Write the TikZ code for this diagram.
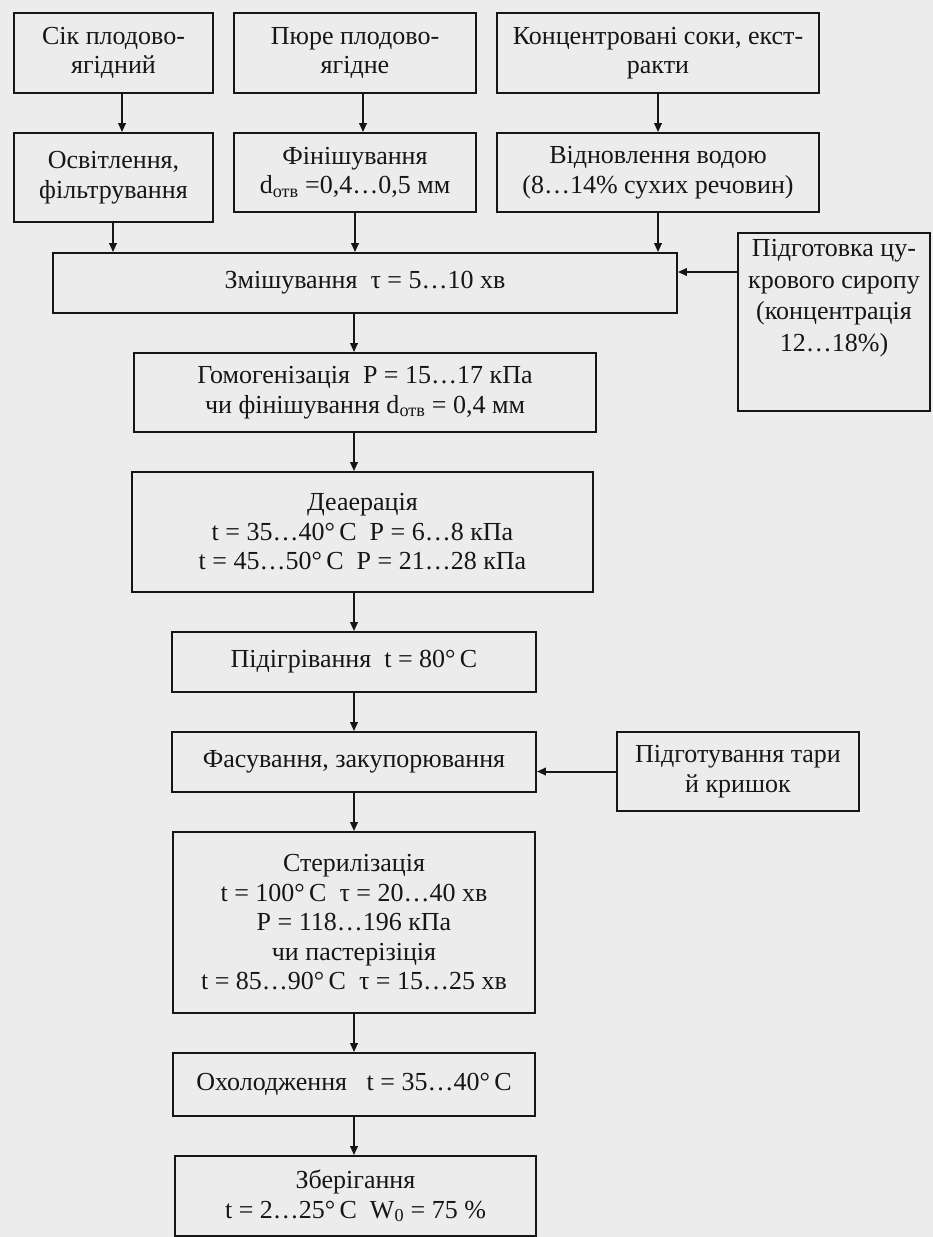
\documentclass[tikz,border=0pt]{standalone}
\usepackage{fontspec}
\setmainfont{Liberation Serif}
\usetikzlibrary{arrows.meta}
\definecolor{paper}{RGB}{236,236,236}
\definecolor{ink}{RGB}{22,22,22}
\begin{document}
\begin{tikzpicture}[x=1pt,y=-1pt,
  box/.style={draw=ink, line width=1.8pt, inner sep=0pt, align=center,
    font=\fontsize{26}{29.5}\selectfont, text=ink},
  lbl/.style={inner sep=0pt, align=center, font=\fontsize{26}{31.5}\selectfont, text=ink},
  flow/.style={draw=ink, line width=2pt, -{Triangle[length=9pt,width=7.5pt]}}]
\fill[paper] (0,0) rectangle (933,1237);
\useasboundingbox (0,0) rectangle (933,1237);

% raw materials
\node[box, minimum width=199pt, minimum height=80pt] (A) at (113.5,53) {Сік плодово-\\ягідний};
\node[box, minimum width=242pt, minimum height=80pt] (B) at (355,53) {Пюре плодово-\\ягідне};
\node[box, minimum width=322pt, minimum height=80pt] (C) at (658,53) {Концентровані соки, екст-\\ракти};

% preparation of each raw material
\node[box, minimum width=199pt, minimum height=89pt] (D) at (113.5,177.5) {Освітлення,\\фільтрування};
\node[box, minimum width=242pt, minimum height=79pt] (E) at (355,172.5) {Фінішування\\d\textsubscript{отв} =0,4…0,5 мм};
\node[box, minimum width=322pt, minimum height=79pt] (F) at (658,172.5) {Відновлення водою\\(8…14\% сухих речовин)};

% mixing and syrup
\node[box, minimum width=624pt, minimum height=60pt] (G) at (365,283) {Змішування \ τ = 5…10 хв};
\node[box, minimum width=192pt, minimum height=178pt] (S) at (834,322) {};
\node[lbl] (St) at (834,298) {Підготовка цу-\\крового сиропу\\(концентрація\\12…18\%)};

% main line
\node[box, minimum width=462pt, minimum height=79pt] (H) at (365,392.5) {Гомогенізація \ P = 15…17 кПа\\чи фінішування d\textsubscript{отв} = 0,4 мм};
\node[box, minimum width=461pt, minimum height=120pt] (I) at (362.5,532) {Деаерація\\t = 35…40°\,C \ P = 6…8 кПа\\t = 45…50°\,C \ P = 21…28 кПа};
\node[box, minimum width=364pt, minimum height=60pt] (J) at (354,662) {Підігрівання \ t = 80°\,C};
\node[box, minimum width=364pt, minimum height=60pt] (K) at (354,762) {Фасування, закупорювання};
\node[box, minimum width=242pt, minimum height=79pt] (T) at (738,771.5) {Підготування тари\\й кришок};
\node[box, minimum width=362pt, minimum height=181pt] (L) at (354,922.5) {Стерилізація\\t = 100°\,C \ τ = 20…40 хв\\P = 118…196 кПа\\чи пастерізіція\\t = 85…90°\,C \ τ = 15…25 хв};
\node[box, minimum width=362pt, minimum height=63pt] (M) at (354,1084.5) {Охолодження \ \ t = 35…40°\,C};
\node[box, minimum width=361pt, minimum height=80pt] (N) at (355.5,1196) {Зберігання\\t = 2…25°\,C \ W\textsubscript{0} = 75 \%};

% connectors
\draw[flow] ([xshift=8.5pt]A.south) -- ([xshift=8.5pt]A.south |- D.north);
\draw[flow] ([xshift=8pt]B.south) -- ([xshift=8pt]B.south |- E.north);
\draw[flow] (C.south) -- (F.north);
\coordinate (dout) at ([xshift=-0.5pt]D.south);
\draw[flow] (dout) -- (dout |- G.north);
\draw[flow] (E.south) -- (E.south |- G.north);
\draw[flow] (F.south) -- (F.south |- G.north);
\coordinate (gin) at ([yshift=11pt]G.east);
\draw[flow] (gin -| S.west) -- (gin);
\coordinate (gout) at ([xshift=-11pt]G.south);
\draw[flow] (gout) -- (gout |- H.north);
\coordinate (hout) at ([xshift=-11pt]H.south);
\draw[flow] (hout) -- (hout |- I.north);
\draw[flow] (J.north |- I.south) -- (J.north);
\draw[flow] (J.south) -- (K.north);
\draw[flow] (K.south) -- (K.south |- L.north);
\draw[flow] (L.south) -- (M.north);
\draw[flow] (M.south) -- (M.south |- N.north);
\draw[flow] (T.west) -- (T.west -| K.east);
\end{tikzpicture}
\end{document}
